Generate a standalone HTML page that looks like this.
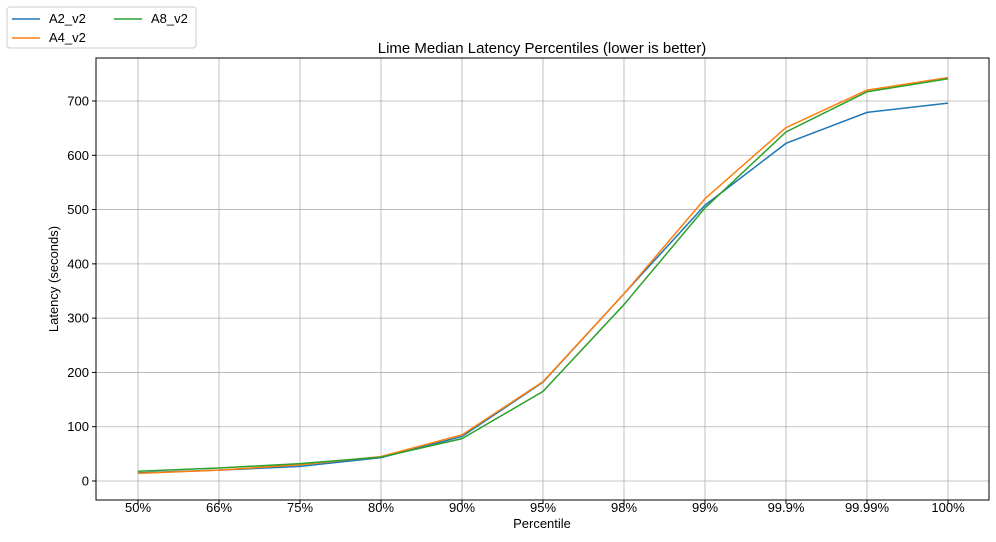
<!DOCTYPE html>
<html><head><meta charset="utf-8"><style>
body{margin:0;background:#fff;font-family:"Liberation Sans",sans-serif}
svg text{font-family:"Liberation Sans",sans-serif;fill:#000}
</style></head><body>
<svg id="chart" width="996" height="537">
<g id="grid"></g>
<g id="axes"></g>
<g id="series"></g>
<rect x="96" y="58" width="893" height="442" fill="none" stroke="#000" stroke-width="1"/>
<text x="542" y="53" font-size="15" text-anchor="middle">Lime Median Latency Percentiles (lower is better)</text>
<text x="542" y="528" font-size="13" text-anchor="middle">Percentile</text>
<text x="58" y="279" font-size="13" text-anchor="middle" transform="rotate(-90 58 279)">Latency (seconds)</text>
<g>
<rect x="7" y="7" width="189" height="41" rx="3" fill="#fff" stroke="#ccc"/>
<g><line x1="12" y1="19" x2="40" y2="19" stroke="#1f77b4" stroke-width="1.5"/><text x="49" y="23" font-size="13">A2_v2</text></g>
<g><line x1="12" y1="38" x2="40" y2="38" stroke="#ff7f0e" stroke-width="1.5"/><text x="49" y="42" font-size="13">A4_v2</text></g>
<g><line x1="114" y1="19" x2="142" y2="19" stroke="#2ca02c" stroke-width="1.5"/><text x="151" y="23" font-size="13">A8_v2</text></g>
</g>
</svg>
<script>
const categories=["50%","66%","75%","80%","90%","95%","98%","99%","99.9%","99.99%","100%"];
const a2Values=[15,20,27,43,82,182,345,508,622,679,696];
const a4Values=[14,20,30,45,85,183,345,520,651,720,743];
const a8Values=[18,24,32,44,78,165,325,503,643,717,741];
const yTicks=[0,100,200,300,400,500,600,700];
const NS="http://www.w3.org/2000/svg";
const x=i=>138+i*81;
const y=v=>481-v*(380/700);
function mk(tag,attrs,parent){const e=document.createElementNS(NS,tag);for(const k in attrs)e.setAttribute(k,attrs[k]);parent.appendChild(e);return e;}
const grid=document.getElementById('grid'),axes=document.getElementById('axes'),series=document.getElementById('series');
categories.forEach((c,i)=>{
 const g=mk('line',{x1:x(i),x2:x(i),y1:58,y2:500,stroke:'#b0b0b0','stroke-width':0.8},grid);
 
 
 mk('line',{x1:x(i),x2:x(i),y1:500,y2:504,stroke:'#000'},axes);
 const t=mk('text',{x:x(i),y:512,'font-size':13,'text-anchor':'middle'},axes);t.textContent=c;
 
 
});
yTicks.forEach(v=>{
 const g=mk('line',{x1:96,x2:989,y1:y(v),y2:y(v),stroke:'#b0b0b0','stroke-width':0.8},grid);
 
 
 mk('line',{x1:92,x2:96,y1:y(v),y2:y(v),stroke:'#000'},axes);
 const t=mk('text',{x:89,y:y(v)+4.5,'font-size':13,'text-anchor':'end'},axes);t.textContent=v;
 
 
});
[[a2Values,'#1f77b4','a2'],[a4Values,'#ff7f0e','a4'],[a8Values,'#2ca02c','a8']].forEach(([vals,col,n])=>{
 const p=mk('polyline',{points:vals.map((v,i)=>x(i)+','+y(v)).join(' '),fill:'none',stroke:col,'stroke-width':1.5},series);
 
 
});
</script>
</body></html>
